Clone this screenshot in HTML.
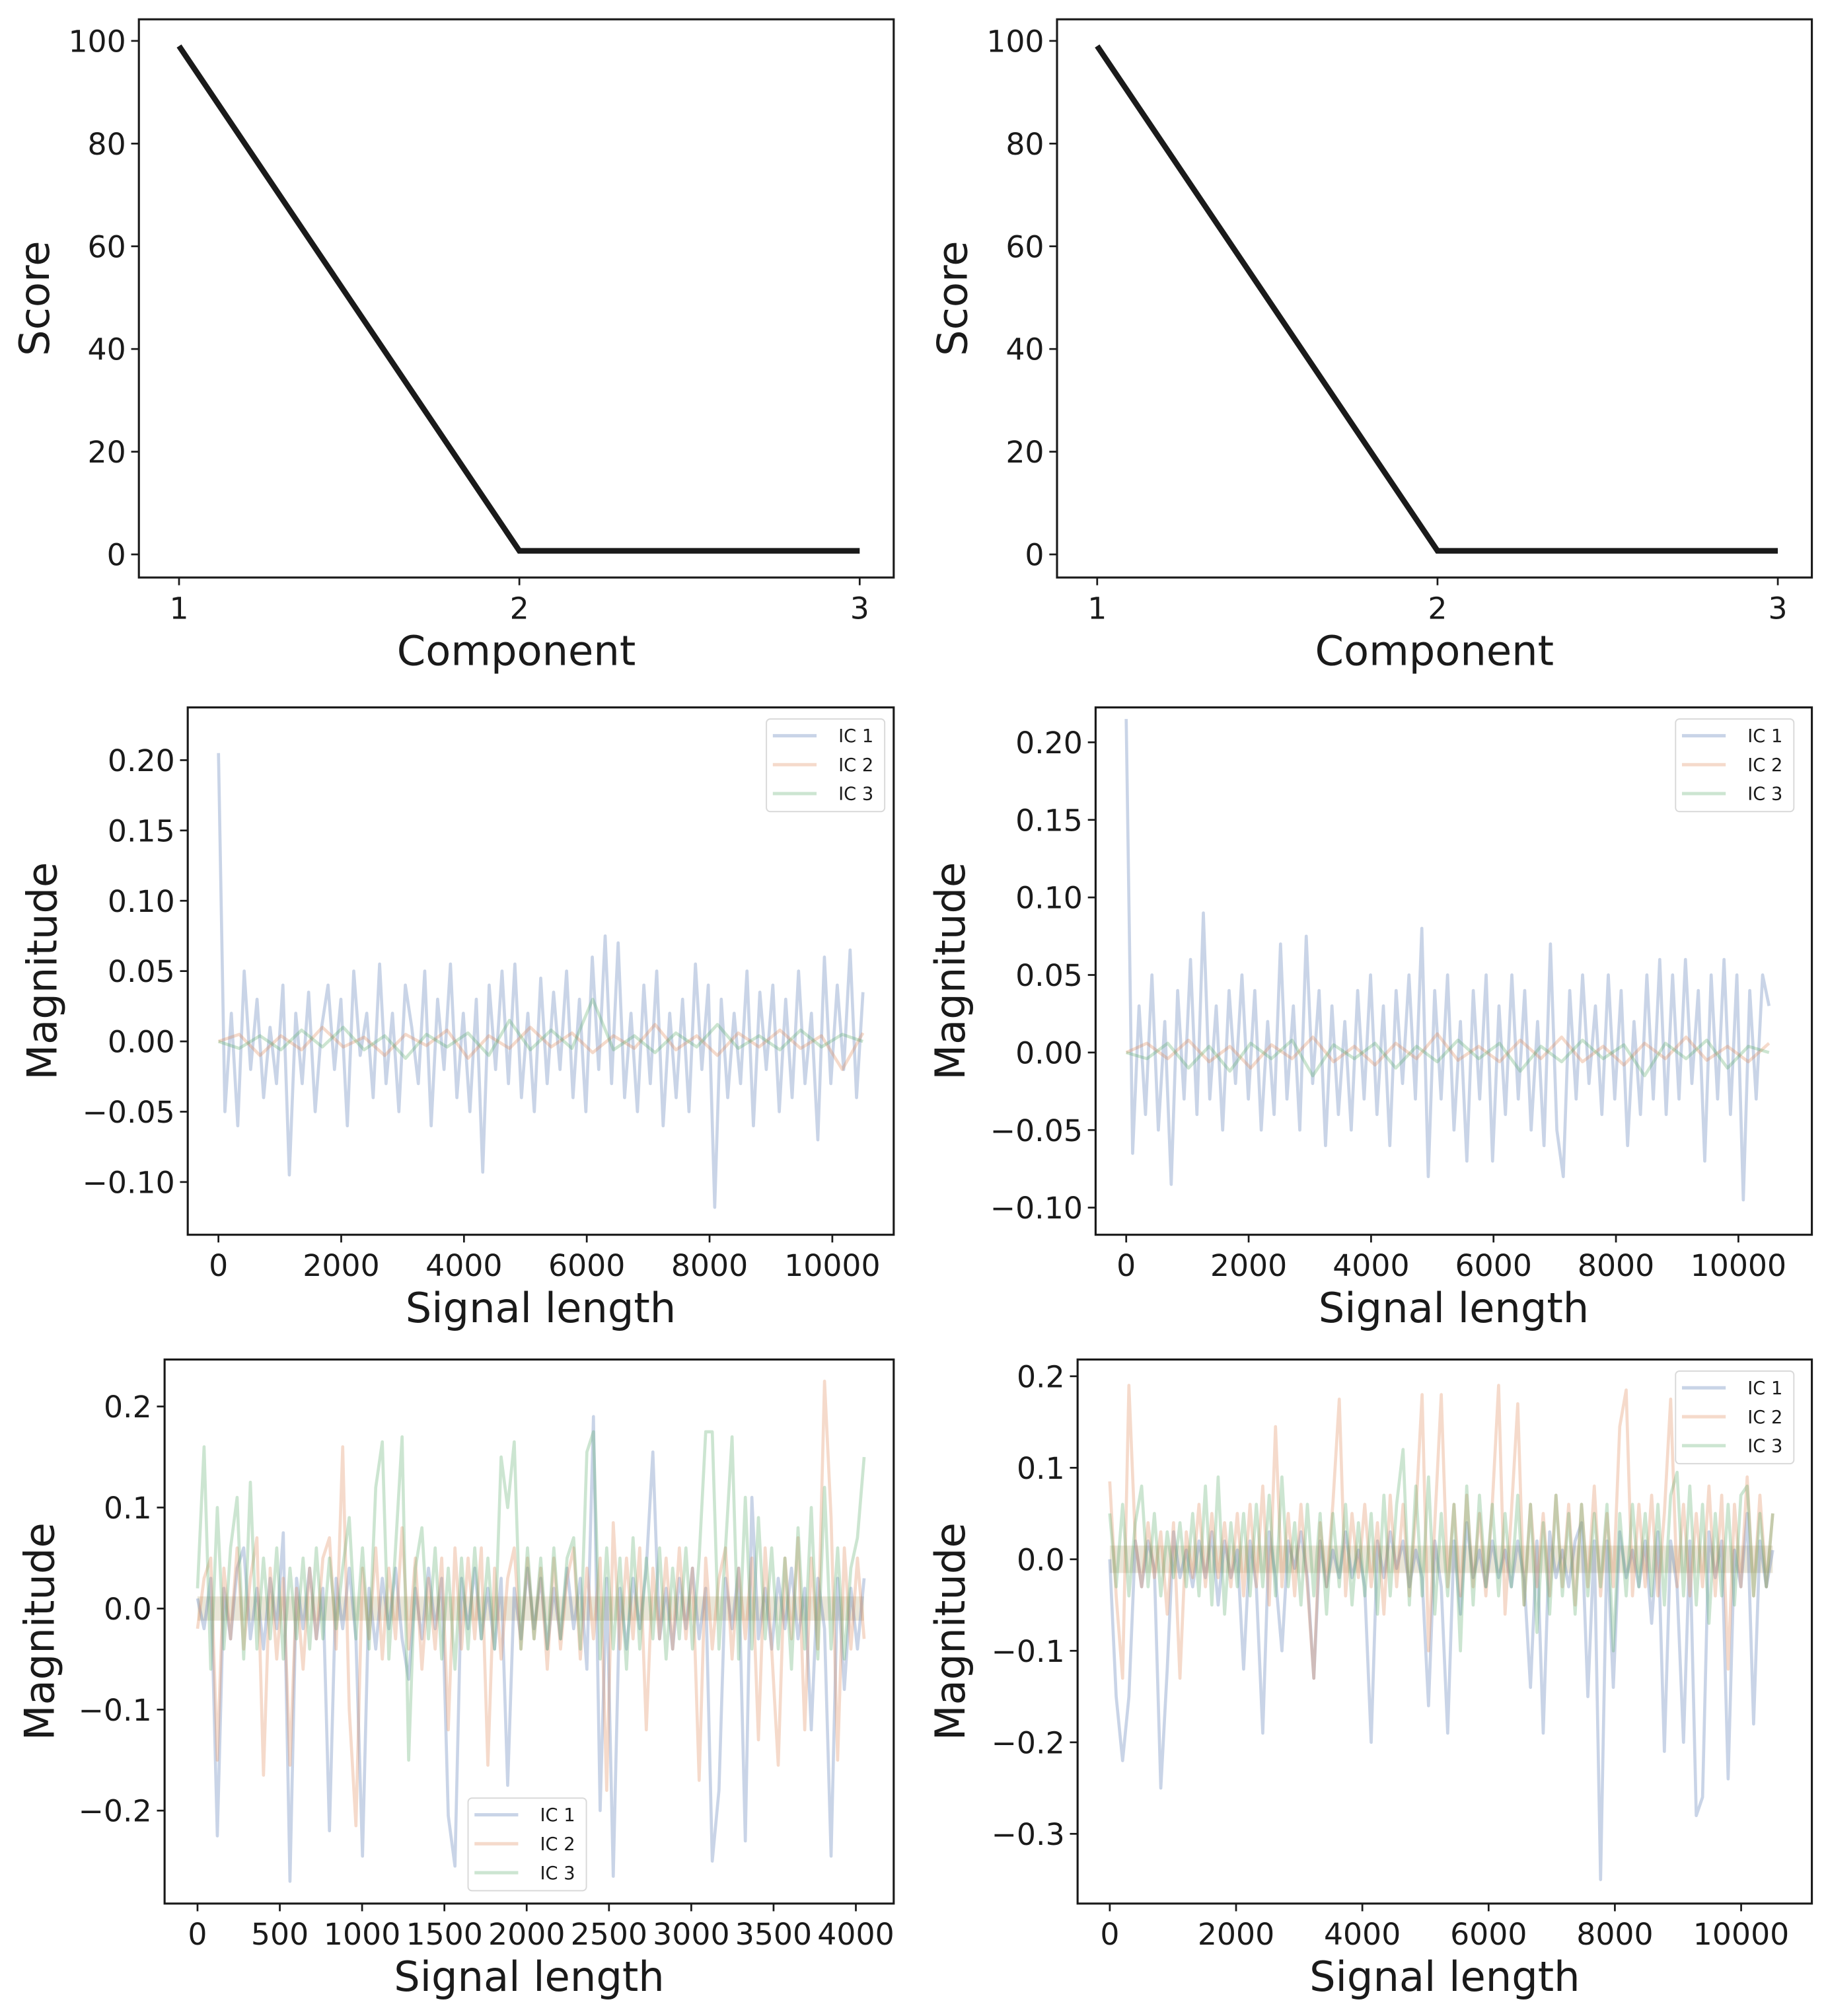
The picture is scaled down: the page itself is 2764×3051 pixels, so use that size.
<!DOCTYPE html>
<html><head><meta charset="utf-8"><style>
html,body{margin:0;padding:0;background:#fff}
svg{display:block}
text{font-family:"DejaVu Sans","Liberation Sans",sans-serif;fill:#1a1a1a}
</style></head><body>
<svg id="fig" xmlns="http://www.w3.org/2000/svg" width="2764" height="3051" viewBox="0 0 1420 1567.4"></svg>
<script>
const scoreComponents=[1,2,3];
const scoreValuesA=[99,0.7,0.7];
const scoreValuesB=[99,0.7,0.7];
const scoreTicks=[0,20,40,60,80,100];

const C_IC1=[0.205,-0.05,0.02,-0.06,0.05,-0.02,0.03,-0.04,0.01,-0.03,0.04,-0.095,0.02,-0.03,0.035,-0.05,0.01,0.04,-0.02,0.03,-0.06,0.05,-0.01,0.02,-0.04,0.055,-0.03,0.02,-0.05,0.04,0.01,-0.03,0.05,-0.06,0.03,-0.02,0.055,-0.04,0.02,-0.05,0.03,-0.093,0.04,-0.02,0.05,-0.03,0.055,-0.04,0.02,-0.05,0.045,-0.03,0.035,-0.02,0.05,-0.04,0.03,-0.05,0.06,-0.02,0.075,-0.03,0.07,-0.04,0.02,-0.05,0.04,-0.03,0.05,-0.06,0.02,-0.04,0.03,-0.05,0.055,-0.02,0.04,-0.118,0.03,-0.04,0.02,-0.03,0.05,-0.06,0.035,-0.02,0.04,-0.05,0.03,-0.04,0.05,-0.03,0.02,-0.07,0.06,-0.03,0.04,-0.02,0.065,-0.04,0.035];
const C_IC2=[0,0.005,-0.01,0.004,-0.006,0.01,-0.004,0.003,-0.01,0.005,-0.003,0.008,-0.012,0.004,-0.005,0.01,-0.004,0.006,-0.008,0.004,-0.005,0.012,-0.006,0.004,-0.01,0.006,-0.004,0.008,-0.005,0.004,-0.02,0.006];
const C_IC3=[0,-0.005,0.004,-0.006,0.008,-0.004,0.01,-0.006,0.004,-0.012,0.005,-0.004,0.006,-0.01,0.015,-0.006,0.008,-0.005,0.03,-0.006,0.004,-0.008,0.006,-0.004,0.012,-0.005,0.004,-0.006,0.008,-0.004,0.005,0];
const D_IC1=[0.215,-0.065,0.03,-0.04,0.05,-0.05,0.02,-0.085,0.04,-0.03,0.06,-0.04,0.09,-0.03,0.03,-0.05,0.04,-0.02,0.05,-0.03,0.04,-0.05,0.02,-0.04,0.07,-0.03,0.03,-0.05,0.075,-0.02,0.04,-0.06,0.03,-0.04,0.02,-0.05,0.04,-0.03,0.05,-0.04,0.03,-0.06,0.04,-0.02,0.05,-0.03,0.08,-0.08,0.04,-0.03,0.05,-0.05,0.02,-0.07,0.04,-0.03,0.05,-0.07,0.03,-0.04,0.05,-0.03,0.04,-0.05,0.02,-0.06,0.07,-0.05,-0.08,0.04,-0.03,0.05,-0.02,0.03,-0.04,0.05,-0.03,0.04,-0.06,0.02,-0.04,0.05,-0.03,0.06,-0.04,0.05,-0.03,0.06,-0.02,0.04,-0.07,0.05,-0.03,0.06,-0.04,0.05,-0.095,0.04,-0.03,0.05,0.03];
const D_IC2=[0,0.006,-0.004,0.008,-0.006,0.004,-0.01,0.005,-0.004,0.01,-0.006,0.004,-0.008,0.006,-0.004,0.012,-0.005,0.004,-0.006,0.008,-0.004,0.01,-0.006,0.004,-0.008,0.006,-0.004,0.01,-0.005,0.004,-0.006,0.006];
const D_IC3=[0,-0.004,0.006,-0.01,0.004,-0.012,0.006,-0.004,0.008,-0.015,0.005,-0.004,0.006,-0.01,0.004,-0.006,0.008,-0.004,0.006,-0.012,0.004,-0.006,0.008,-0.004,0.005,-0.015,0.006,-0.004,0.008,-0.01,0.004,0];
const E_IC1=[0.01,-0.02,0.03,-0.225,0.02,-0.03,0.04,0.06,-0.03,0.02,-0.04,0.03,-0.02,0.075,-0.27,0.03,-0.02,0.04,-0.03,0.02,-0.22,0.03,-0.02,0.04,-0.03,-0.245,0.02,-0.04,0.03,-0.02,0.04,-0.03,-0.07,0.02,-0.03,0.04,-0.02,0.03,-0.205,-0.255,0.03,-0.02,0.04,-0.03,0.02,-0.04,0.03,-0.175,0.02,-0.03,0.04,-0.02,0.03,-0.04,0.02,-0.03,0.04,-0.02,0.03,-0.06,0.19,-0.2,0.03,-0.265,0.02,-0.04,0.03,-0.02,0.04,0.155,-0.03,0.02,-0.04,0.03,-0.02,0.04,-0.03,0.02,-0.25,-0.18,0.03,-0.02,0.04,-0.23,0.11,-0.03,0.02,-0.04,0.03,-0.02,0.04,-0.03,0.02,-0.12,0.03,-0.02,-0.245,0.03,-0.08,0.02,-0.04,0.03];
const E_IC2=[-0.02,0.03,0.05,-0.15,0.04,-0.03,0.06,-0.04,0.03,0.07,-0.165,0.04,-0.05,0.03,-0.155,0.02,-0.06,0.04,-0.03,0.05,0.07,-0.04,0.16,-0.1,-0.215,0.04,-0.03,0.06,-0.05,0.04,-0.03,0.08,-0.04,0.05,-0.06,0.03,-0.04,0.05,-0.12,0.06,-0.04,0.05,-0.03,0.06,-0.155,0.04,-0.05,0.03,0.06,-0.04,0.05,-0.03,0.04,-0.06,0.05,-0.04,0.03,0.06,-0.05,0.04,-0.03,0.05,-0.18,0.085,-0.04,0.05,-0.03,0.06,-0.12,0.04,-0.03,0.05,-0.04,0.06,-0.03,0.04,-0.17,0.05,-0.04,0.03,0.06,-0.05,0.04,-0.03,0.05,-0.13,0.06,-0.04,-0.155,0.05,-0.03,0.07,-0.12,0.05,-0.04,0.225,0.09,-0.15,0.06,-0.04,0.05,-0.03];
const E_IC3=[0.02,0.16,-0.06,0.1,-0.04,0.06,0.11,-0.05,0.125,-0.04,0.05,-0.03,0.06,-0.05,0.04,-0.03,0.05,-0.04,0.06,-0.03,0.05,-0.02,0.04,0.09,-0.03,0.06,-0.04,0.12,0.165,-0.05,0.06,0.17,-0.15,0.04,0.08,-0.03,0.06,-0.05,0.04,-0.06,0.05,-0.04,0.06,-0.03,0.05,-0.04,0.15,0.1,0.165,-0.04,0.06,-0.03,0.05,-0.04,0.06,-0.03,0.05,0.07,-0.04,0.155,0.175,-0.05,0.06,-0.04,0.05,-0.06,0.07,-0.04,0.05,-0.03,0.06,-0.05,0.04,-0.03,0.06,-0.04,0.05,0.175,0.175,-0.04,0.06,0.17,-0.05,0.11,-0.04,0.09,-0.03,0.06,-0.04,0.05,-0.06,0.08,-0.04,0.1,-0.05,0.12,-0.04,0.06,-0.05,0.04,0.07,0.15];
const F_IC1=[0,-0.15,-0.22,-0.15,0.02,-0.03,0.02,-0.01,-0.25,-0.12,0.03,-0.02,0.01,-0.03,0.02,-0.02,0.03,-0.05,0.02,-0.02,0.01,-0.12,0.02,-0.03,-0.19,0.03,-0.02,-0.1,0.02,-0.01,0.03,-0.02,-0.13,0.02,-0.03,0.01,-0.02,0.03,-0.02,0.01,-0.03,-0.2,0.02,-0.02,0.03,-0.01,0.02,-0.03,0.01,-0.02,-0.16,0.02,-0.03,-0.19,0.02,-0.06,0.04,-0.02,0.01,-0.03,0.02,-0.02,0.01,-0.03,0.02,-0.02,-0.14,0.02,-0.19,0.03,-0.02,0.01,-0.03,0.02,0.04,-0.15,0.02,-0.35,0.02,-0.14,0.03,-0.02,0.01,-0.03,0.02,-0.07,0.03,-0.21,0.02,-0.03,-0.2,0.02,-0.28,-0.26,0.03,-0.02,0.02,-0.24,0.01,-0.03,0.05,-0.18,0.02,-0.03,0.01];
const F_IC2=[0.085,-0.04,-0.13,0.19,0.02,-0.03,0.04,-0.02,0.03,-0.06,0.04,-0.13,0.03,-0.02,0.06,-0.03,0.05,-0.02,0.04,-0.03,0.05,-0.04,0.06,-0.03,0.08,-0.05,0.145,-0.03,0.05,-0.04,0.06,-0.03,-0.13,0.04,-0.03,0.06,0.175,-0.04,0.05,-0.02,0.06,-0.03,0.04,-0.06,0.07,-0.03,0.06,-0.04,0.05,0.18,-0.1,0.04,0.18,-0.03,0.06,-0.04,0.07,-0.03,0.05,-0.04,0.06,0.19,-0.06,0.05,0.17,-0.05,0.06,-0.03,0.05,-0.04,0.07,-0.03,0.06,-0.05,0.06,-0.03,0.08,-0.04,0.05,-0.03,0.145,0.185,-0.04,0.06,-0.03,0.07,-0.04,0.05,0.175,-0.03,0.06,-0.04,0.05,-0.03,0.08,-0.04,0.07,-0.12,0.06,-0.03,0.09,-0.04,0.07,-0.03,0.05];
const F_IC3=[0.05,-0.03,0.06,-0.04,0.04,0.08,-0.03,0.05,-0.04,0.03,-0.02,0.04,-0.03,0.05,-0.04,0.08,-0.05,0.09,-0.06,0.04,-0.03,0.05,-0.04,0.06,-0.03,0.07,-0.04,0.09,-0.03,0.04,-0.05,0.06,-0.04,0.05,-0.06,0.05,-0.03,0.06,-0.05,0.04,-0.04,0.05,-0.06,0.07,-0.04,0.06,0.12,-0.05,0.08,-0.04,0.09,-0.06,0.05,-0.04,0.06,-0.1,0.08,-0.05,0.07,-0.03,0.06,-0.04,0.05,-0.03,0.07,-0.05,0.06,-0.08,0.04,-0.06,0.07,-0.04,0.05,-0.06,0.06,-0.04,0.05,-0.03,0.06,-0.1,0.05,-0.04,0.06,-0.03,0.05,-0.04,0.06,-0.05,0.07,0.095,-0.04,0.08,-0.05,0.06,-0.07,0.05,-0.04,0.06,-0.05,0.07,0.08,-0.04,0.05,-0.03,0.05];
const ticksC=[-0.10,-0.05,0,0.05,0.10,0.15,0.20];
const ticksCLabels=["\u22120.10","\u22120.05","0.00","0.05","0.10","0.15","0.20"];
const ticksE=[-0.2,-0.1,0,0.1,0.2];
const ticksELabels=["\u22120.2","\u22120.1","0.0","0.1","0.2"];
const ticksF=[-0.3,-0.2,-0.1,0,0.1,0.2];
const ticksFLabels=["\u22120.3","\u22120.2","\u22120.1","0.0","0.1","0.2"];
const xTicksLong=[0,2000,4000,6000,8000,10000];
const xTicksShort=[0,500,1000,1500,2000,2500,3000,3500,4000];

const NS="http://www.w3.org/2000/svg";
const fig=document.getElementById('fig');
function mk(tag,attrs,parent){const e=document.createElementNS(NS,tag);for(const k in attrs)e.setAttribute(k,attrs[k]);(parent||fig).appendChild(e);return e;}
const COLORS=["#4c72b0","#dd8452","#55a868"];

function axes(name,box,xr,yr){
  const g=mk('g',{});
  
  
  const sx=v=>box.x0+(v-xr[0])/(xr[1]-xr[0])*(box.x1-box.x0);
  const sy=v=>box.y0+(yr[1]-v)/(yr[1]-yr[0])*(box.y1-box.y0);
  return {g,sx,sy,box};
}
function frame(a,xt,xtl,yt,ytl,xlabel,ylabel,ylabX){
  const b=a.box;
  const r=mk('rect',{x:b.x0,y:b.y0,width:b.x1-b.x0,height:b.y1-b.y0,fill:'none',stroke:'#1a1a1a','stroke-width':1.6},a.g);
  
  
  xt.forEach((v,i)=>{const x=a.sx(v);
    mk('line',{x1:x,x2:x,y1:b.y1,y2:b.y1+6,stroke:'#1a1a1a','stroke-width':1.4},a.g);
    const t=mk('text',{x:x,y:b.y1+32,'font-size':23.5,'text-anchor':'middle'},a.g);t.textContent=xtl[i];
    
    });
  yt.forEach((v,i)=>{const y=a.sy(v);
    mk('line',{x1:b.x0-6,x2:b.x0,y1:y,y2:y,stroke:'#1a1a1a','stroke-width':1.4},a.g);
    const t=mk('text',{x:b.x0-10,y:y+8.5,'font-size':23.5,'text-anchor':'end'},a.g);t.textContent=ytl[i];
    
    });
  const xl=mk('text',{x:(b.x0+b.x1)/2,y:b.y1+68,'font-size':32,'text-anchor':'middle'},a.g);xl.textContent=xlabel;
  
  
  const cy=(b.y0+b.y1)/2;
  const yl=mk('text',{x:ylabX,y:cy,'font-size':32,'text-anchor':'middle',transform:`rotate(-90 ${ylabX} ${cy})`},a.g);yl.textContent=ylabel;
  
  
}
function series(a,vals,xmax,ci,name){
  const pts=vals.map((v,i)=>a.sx(i/(vals.length-1)*xmax).toFixed(1)+','+a.sy(v).toFixed(1)).join(' ');
  const p=mk('polyline',{points:pts,fill:'none',stroke:COLORS[ci],'stroke-opacity':0.3,'stroke-width':2.4,'stroke-linejoin':'round'},a.g);
  
  
}
function band(a,xmax,h){
  const r=mk('rect',{x:a.sx(0),y:a.sy(h),width:a.sx(xmax)-a.sx(0),height:a.sy(-h)-a.sy(h),fill:'#c8bd98','fill-opacity':0.38},a.g);
  
  
}
function legend(a,x,y){
  const g=mk('g',{},a.g);
  
  
  mk('rect',{x:x,y:y,width:92,height:72,rx:3,fill:'#fff','fill-opacity':0.8,stroke:'#d9d9d9','stroke-width':1},g);
  ["IC 1","IC 2","IC 3"].forEach((s,i)=>{
    const yy=y+13+i*22.5;
    mk('line',{x1:x+5,x2:x+39,y1:yy,y2:yy,stroke:COLORS[i],'stroke-opacity':0.3,'stroke-width':2.6},g);
    const t=mk('text',{x:x+56,y:yy+5,'font-size':14},g);t.textContent=s;
    
    
  });
}
function scorePlot(name,box,vals,ylabX){
  const a=axes(name,box,[0.882,3.1],[-4.5,104.2]);
  const pts=scoreComponents.map((c,i)=>a.sx(c)+','+a.sy(vals[i])).join(' ');
  const p=mk('polyline',{points:pts,fill:'none',stroke:'#1a1a1a','stroke-width':4.4,'stroke-linejoin':'miter'},a.g);
  
  
  frame(a,scoreComponents,scoreComponents.map(String),scoreTicks,scoreTicks.map(String),'Component','Score',ylabX);
}
scorePlot('score-plot-left',{x0:108,x1:695,y0:15,y1:449},scoreValuesA,38);
scorePlot('score-plot-right',{x0:822,x1:1409,y0:15,y1:449},scoreValuesB,752);

function sigPlot(name,box,xr,yr,data,xmax,xt,yt,ytl,ylabX,leg,bh){
  const a=axes(name,box,xr,yr);
  if(bh) band(a,xmax,bh);
  data.forEach((d,i)=>series(a,d,xmax,i,'ic'+(i+1)+'-line'));
  frame(a,xt,xt.map(String),yt,ytl,'Signal length','Magnitude',ylabX);
  legend(a,leg[0],leg[1]);
}
sigPlot('signal-plot-mid-left',{x0:146,x1:695,y0:550,y1:960},[-500,11000],[-0.1375,0.2375],[C_IC1,C_IC2,C_IC3],10500,xTicksLong,ticksC,ticksCLabels,44,[596,559],0);
sigPlot('signal-plot-mid-right',{x0:852,x1:1409,y0:550,y1:960},[-500,11200],[-0.1175,0.2225],[D_IC1,D_IC2,D_IC3],10500,xTicksLong,ticksC,ticksCLabels,750,[1303,559],0);
sigPlot('signal-plot-bottom-left',{x0:128,x1:695,y0:1057,y1:1480},[-200,4230],[-0.292,0.2465],[E_IC1,E_IC2,E_IC3],4050,xTicksShort,ticksE,ticksELabels,42,[364,1398],0.012);
sigPlot('signal-plot-bottom-right',{x0:838,x1:1409,y0:1057,y1:1480},[-510,11120],[-0.3762,0.2183],[F_IC1,F_IC2,F_IC3],10500,xTicksLong,ticksF,ticksFLabels,750,[1303,1066],0.015);
</script>
</body></html>
